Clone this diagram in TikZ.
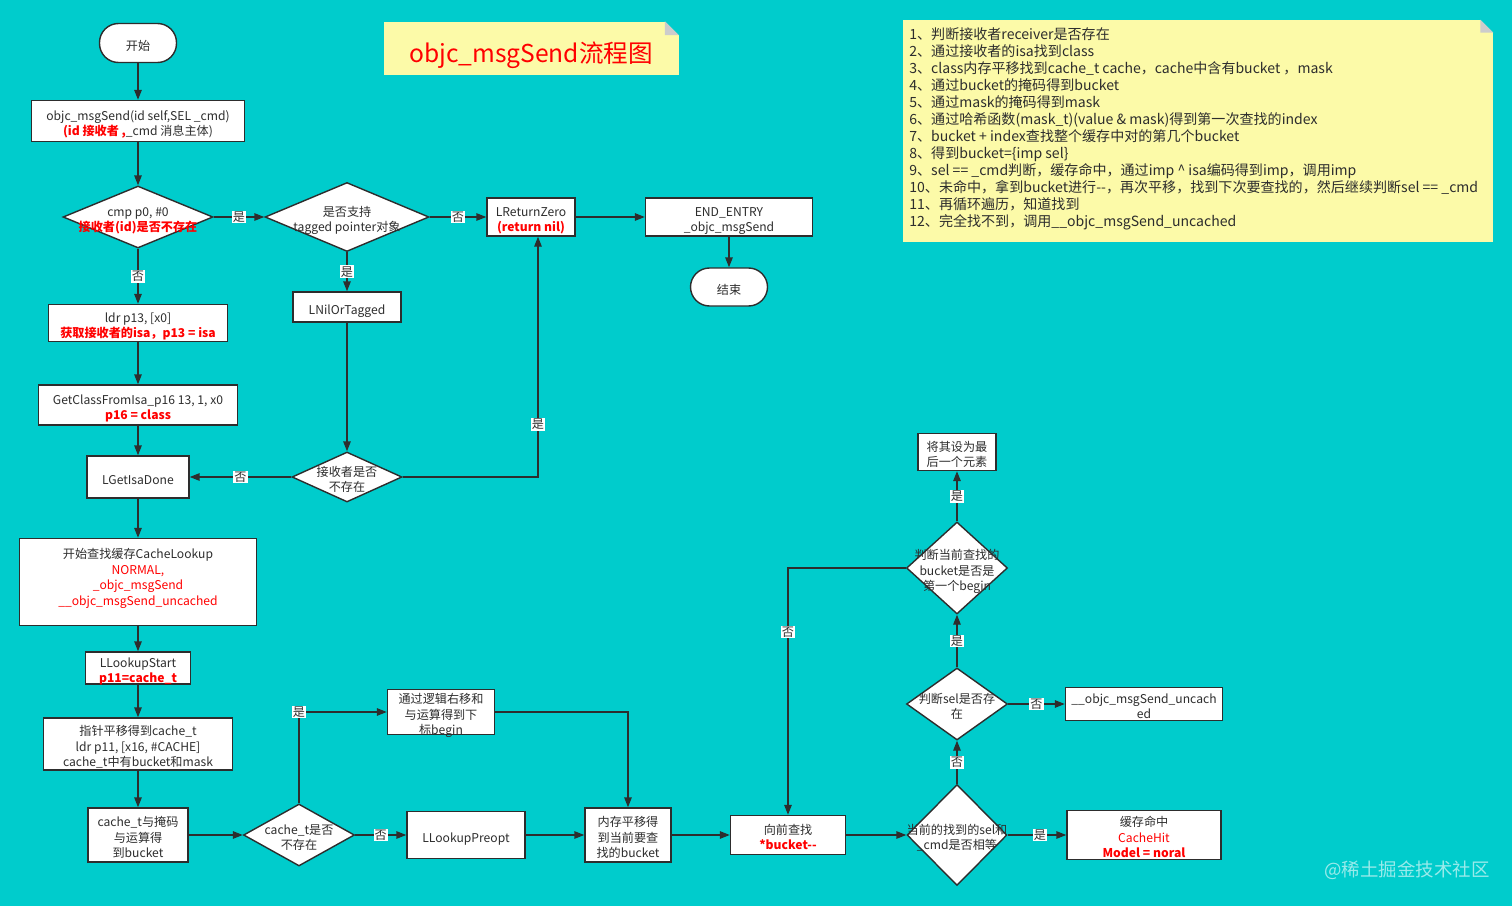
\documentclass[tikz,border=0pt]{standalone}
\usepackage{fontspec}
\setmainfont{Noto Sans CJK SC}
\usetikzlibrary{shapes.geometric,arrows.meta}
\definecolor{bg}{RGB}{0,204,204}
\definecolor{note}{RGB}{252,250,168}
\definecolor{ink}{RGB}{45,45,45}
\newcommand{\ztxt}[2][-0.14cm]{\makebox[0pt]{\smash{\raisebox{#1}{\begin{tabular}{@{}c@{}}#2\end{tabular}}}}}
\newcommand{\rb}[1]{\textcolor{red}{\textbf{#1}}}
\begin{document}
\begin{tikzpicture}[x=0.02cm,y=-0.02cm,
  font=\fontsize{6.9}{9}\selectfont,
  wh/.style 2 args={minimum width=#1*0.02cm,minimum height=#2*0.02cm},
  box/.style={draw=ink,line width=0.8pt,fill=white,inner sep=0pt,align=center,text=ink},
  term/.style={box,rounded corners=0.38cm},
  dia/.style={draw=ink,line width=0.8pt,fill=white,diamond,inner sep=0pt,text=ink},
  conn/.style={ink,line width=0.8pt,-{Triangle[length=0.2cm,width=0.15cm]}},
  lbl/.style={fill=white,inner sep=0.6pt,text=ink}]
\fill[bg] (0,0) rectangle (1512,906);
\node[fill=note,wh={295}{53},text=red,text height=0.58cm,text depth=0pt,font=\fontsize{14}{16}\selectfont] (t) at (531,48) {objc\_msgSend流程图};
\fill[bg] ([xshift=-0.28cm]t.north east) -- (t.north east) -- ([yshift=-0.28cm]t.north east) -- cycle;
\fill[black!20] ([xshift=-0.28cm]t.north east) -- ([yshift=-0.28cm]t.north east) -- ([xshift=-0.28cm,yshift=-0.28cm]t.north east) -- cycle;
\node[fill=note,wh={590}{222}] (n) at (1198,131) {};
\fill[bg] ([xshift=-0.26cm]n.north east) -- (n.north east) -- ([yshift=-0.26cm]n.north east) -- cycle;
\fill[black!20] ([xshift=-0.26cm]n.north east) -- ([yshift=-0.26cm]n.north east) -- ([xshift=-0.26cm,yshift=-0.26cm]n.north east) -- cycle;
\node[anchor=north west,align=left,inner sep=0pt,text=ink,font=\fontsize{8}{9.7}\selectfont] (nt) at (909,27) {1、判断接收者receiver是否存在\\2、通过接收者的isa找到class\\3、class内存平移找到cache\_t cache，cache中含有bucket ，mask\\4、通过bucket的掩码得到bucket\\5、通过mask的掩码得到mask\\6、通过哈希函数(mask\_t)(value \& mask)得到第一次查找的index\\7、bucket + index查找整个缓存中对的第几个bucket\\8、得到bucket=\{imp sel\}\\9、sel == \_cmd判断，缓存命中，通过imp \^{} isa编码得到imp，调用imp\\10、未命中，拿到bucket进行-{}-，再次平移，找到下次要查找的，然后继续判断sel == \_cmd\\11、再循环遍历，知道找到\\12、完全找不到，调用\_\_objc\_msgSend\_uncached};
\node[term,wh={77}{39}] (1) at (138,43) {\ztxt{开始}};
\node[box,wh={213}{41}] (2) at (138,121) {\ztxt{objc\_msgSend(id self,SEL \_cmd)\\\rb{(id 接收者 ,}\_cmd 消息主体)}};
\node[dia,wh={150}{62}] (3) at (138,217) {\ztxt{cmp p0, \#0\\\rb{接收者(id)是否不存在}}};
\node[dia,wh={164}{69}] (4) at (347,217) {\ztxt{是否支持\\tagged pointer对象}};
\node[box,wh={88}{38}] (5) at (531,217) {\ztxt{LReturnZero\\\rb{(return nil)}}};
\node[box,wh={167}{38}] (6) at (729,217) {\ztxt{END\_ENTRY\\\_objc\_msgSend}};
\node[term,wh={77}{38}] (7) at (729,287) {\ztxt{结束}};
\node[box,wh={108}{30}] (8) at (347,307) {\ztxt{LNilOrTagged}};
\node[dia,wh={110}{50}] (9) at (347,477) {\ztxt{接收者是否\\不存在}};
\node[box,wh={179}{37}] (10) at (138,323) {\ztxt{ldr p13, [x0]\\\rb{获取接收者的isa，p13 = isa}}};
\node[box,wh={199}{40}] (11) at (138,405) {\ztxt{GetClassFromIsa\_p16 13, 1, x0\\\rb{p16 = class}}};
\node[box,wh={102}{42}] (12) at (138,477) {\ztxt{LGetIsaDone}};
\node[box,wh={237}{87}] (13) at (138,582) {\ztxt[0cm]{开始查找缓存CacheLookup\\\textcolor{red}{NORMAL,}\\\textcolor{red}{\_objc\_msgSend}\\\textcolor{red}{\_\_objc\_msgSend\_uncached}}};
\node[box,wh={105}{32}] (14) at (138,668) {\ztxt{LLookupStart\\\rb{p11=cache\_t}}};
\node[box,wh={189}{52}] (15) at (138,744) {\ztxt{指针平移得到cache\_t\\ldr p11, [x16, \#CACHE]\\cache\_t中有bucket和mask}};
\node[box,wh={100}{54}] (16) at (138,835) {\ztxt{cache\_t与掩码\\与运算得\\到bucket}};
\node[dia,wh={111}{62}] (17) at (299,835) {\ztxt{cache\_t是否\\不存在}};
\node[box,wh={107}{45}] (18) at (441,712) {\ztxt{通过逻辑右移和\\与运算得到下\\标begin}};
\node[box,wh={118}{47}] (19) at (466,835) {\ztxt{LLookupPreopt}};
\node[box,wh={86}{54}] (20) at (628,835) {\ztxt{内存平移得\\到当前要查\\找的bucket}};
\node[box,wh={115}{39}] (21) at (788,835) {\ztxt{向前查找\\\rb{*bucket-{}-}}};
\node[dia,wh={100}{101}] (22) at (957,835) {\ztxt{当前的找到的sel和\\\_cmd是否相等}};
\node[box,wh={154}{49}] (23) at (1144,835) {\ztxt{缓存命中\\\textcolor{red}{CacheHit}\\\rb{Model = noral}}};
\node[dia,wh={101}{72}] (24) at (957,704) {\ztxt{判断sel是否存\\在}};
\node[box,wh={157}{33}] (25) at (1144,704) {\ztxt{\_\_objc\_msgSend\_uncach\\ed}};
\node[dia,wh={101}{92}] (26) at (957,568) {\ztxt{判断当前查找的\\bucket是否是\\第一个begin}};
\node[box,wh={78}{37}] (27) at (957,452) {\ztxt{将其设为最\\后一个元素}};
\node[text=white,opacity=0.6,font=\fontsize{10.5}{12}\selectfont] (w) at (1407,870) {@稀土掘金技术社区};
\path[draw,conn] (1) -- (2);
\path[draw,conn] (2) -- (3);
\path[draw,conn] (3) -- node[lbl]{是} (4);
\path[draw,conn] (4) -- node[lbl]{否} (5);
\path[draw,conn] (5) -- (6);
\path[draw,conn] (6) -- (7);
\path[draw,conn] (4) -- node[lbl]{是} (8);
\path[draw,conn] (8) -- (9);
\path[draw,conn] (9.east) -| node[lbl,pos=0.61]{是} ([xshift=0.14cm]5.south);
\path[draw,conn] (9) -- node[lbl]{否} (12);
\path[draw,conn] (3) -- node[lbl]{否} (10);
\path[draw,conn] (10) -- (11);
\path[draw,conn] (11) -- (12);
\path[draw,conn] (12) -- (13);
\path[draw,conn] (13) -- (14);
\path[draw,conn] (14) -- (15);
\path[draw,conn] (15) -- (16);
\path[draw,conn] (16) -- (17);
\path[draw,conn] (17.north) |- node[lbl]{是} (18.west);
\path[draw,conn] (18.east) -| (20.north);
\path[draw,conn] (17) -- node[lbl]{否} (19);
\path[draw,conn] (19) -- (20);
\path[draw,conn] (20) -- (21);
\path[draw,conn] (21) -- (22);
\path[draw,conn] (22) -- node[lbl,pos=0.55]{是} (23);
\path[draw,conn] (22) -- node[lbl]{否} (24);
\path[draw,conn] (24) -- node[lbl]{否} (25);
\path[draw,conn] (24) -- node[lbl]{是} (26);
\path[draw,conn] (26) -- node[lbl]{是} (27);
\path[draw,conn] (26.west) -| node[lbl,pos=0.63]{否} (21.north);
\end{tikzpicture}
\end{document}
